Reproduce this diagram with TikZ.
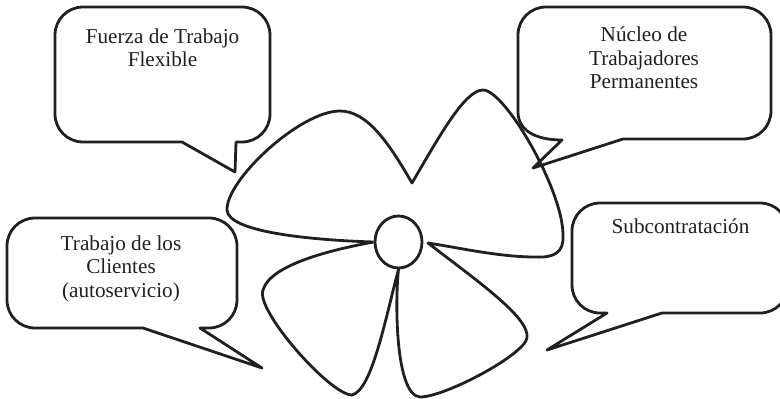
\documentclass[tikz,border=0pt]{standalone}
\usepackage{fontspec}
\setmainfont{Liberation Serif}
\usetikzlibrary{shapes.geometric}
\definecolor{ink}{RGB}{35,31,32}
\begin{document}
\begin{tikzpicture}[x=1pt,y=-1pt,line join=round,
  outline/.style={draw=ink,line width=2.8pt},
  bubbletext/.style={font=\fontsize{21.2}{23.5}\selectfont,text=ink,align=center,inner sep=0pt,anchor=base}]
\useasboundingbox (0,0) rectangle (780,399);
\clip (0,0) rectangle (780,399);

% speech bubbles
\draw[outline] (83,7) -- (242,7) .. controls (257.5,7) and (270,19.5) .. (270,35) -- (270,114)
  .. controls (270,129.5) and (257.5,142) .. (242,142) -- (236,142) -- (235,172) -- (182,142)
  -- (83,142) .. controls (67.5,142) and (55,129.5) .. (55,114) -- (55,35)
  .. controls (55,19.5) and (67.5,7) .. (83,7) -- cycle;
\draw[outline] (546,7) -- (743,7) .. controls (758.5,7) and (771,19.5) .. (771,35) -- (771,111)
  .. controls (771,126.5) and (758.5,139) .. (743,139) -- (623,139) -- (533,168) -- (562,140)
  .. controls (535,140) and (518,130) .. (518,112) -- (518,35)
  .. controls (518,19.5) and (530.5,7) .. (546,7) -- cycle;
\draw[outline] (35,218) -- (209,218) .. controls (224.5,218) and (237,230.5) .. (237,246) -- (237,300)
  .. controls (237,315.5) and (224.5,328) .. (209,328) -- (200,328) -- (262,368) -- (143,328)
  -- (35,328) .. controls (19.5,328) and (7,315.5) .. (7,300) -- (7,246)
  .. controls (7,230.5) and (19.5,218) .. (35,218) -- cycle;
\draw[outline] (600,203) -- (760,203) .. controls (775.5,203) and (788,215.5) .. (788,231) -- (788,285)
  .. controls (788,300.5) and (775.5,313) .. (760,313) -- (662,313) -- (547,350) -- (607,313)
  -- (600,313) .. controls (584.5,313) and (572,300.5) .. (572,285) -- (572,231)
  .. controls (572,215.5) and (584.5,203) .. (600,203) -- cycle;

% hub and petals
\node[outline,ellipse,minimum width=47pt,minimum height=52pt,inner sep=0pt] (hub) at (398.5,242) {};
\draw[outline] (hub.west)
  .. controls (310,240) and (228,232) .. (227,210)
  .. controls (226,180) and (300,111) .. (340,111)
  .. controls (368,111) and (390,145) .. (412,183)
  .. controls (440,135) and (465,90) .. (483,90)
  .. controls (505,90) and (563,190) .. (563,235)
  .. controls (564,252) and (555,258) .. (535,257)
  .. controls (500,257) and (460,248) .. (428,243)
  .. controls (480,283) and (530,318) .. (527,338)
  .. controls (524,355) and (445,397) .. (420,397)
  .. controls (395,395) and (395,300) .. (hub.south)
  .. controls (385,320) and (372,390) .. (352,395)
  .. controls (330,395) and (255,310) .. (263,290)
  .. controls (270,265) and (330,250) .. (hub.west);

% texts (base anchor = baseline of the last line)
\node[bubbletext] (t1) at (162.5,66.5) {Fuerza de Trabajo\\Flexible};
\node[bubbletext] (t2) at (644,88.5) {Núcleo de\\Trabajadores\\Permanentes};
\node[bubbletext] (t3) at (121,297) {Trabajo de los\\Clientes\\(autoservicio)};
\node[bubbletext] (t4) at (680.5,233) {Subcontratación};
\end{tikzpicture}
\end{document}
